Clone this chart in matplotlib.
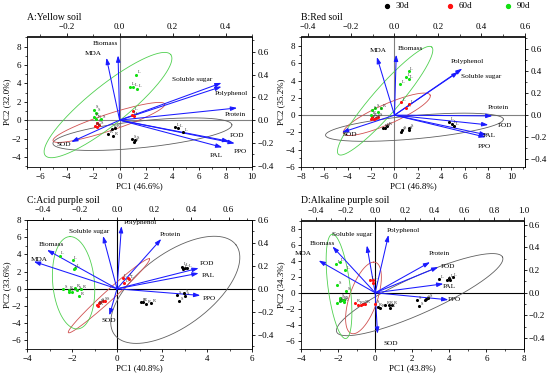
import numpy as np
import matplotlib.pyplot as plt
from matplotlib.ticker import AutoMinorLocator, MultipleLocator

plt.rcParams["font.family"] = ["Liberation Serif", "DejaVu Serif"]
plt.rcParams["axes.linewidth"] = 0.6

# variables (same order in every panel)
VARS = ["Biomass", "MDA", "Soluble sugar", "Polyphenol", "Protein", "POD", "PPO", "PAL", "SOD"]

# loadings (top / right axis units)
A_LOAD_X = [-0.006, -0.050, 0.385, 0.385, 0.444, 0.414, 0.435, 0.388, -0.183]
A_LOAD_Y = [0.568, 0.547, 0.327, 0.294, 0.107, -0.186, -0.204, -0.239, -0.192]
B_LOAD_X = [0.008, -0.081, 0.294, 0.312, 0.451, 0.432, 0.420, 0.424, -0.242]
B_LOAD_Y = [0.551, 0.530, 0.394, 0.424, -0.007, -0.089, -0.201, -0.180, -0.157]
C_LOAD_X = [-0.376, -0.447, -0.075, 0.024, 0.238, 0.439, 0.448, 0.439, -0.041]
C_LOAD_Y = [0.339, 0.238, 0.461, 0.547, 0.435, 0.180, -0.058, 0.136, -0.232]
D_LOAD_X = [-0.288, -0.381, -0.056, 0.090, 0.370, 0.426, 0.494, 0.460, 0.016]
D_LOAD_Y = [0.409, 0.285, 0.418, 0.511, 0.271, 0.227, -0.062, 0.079, -0.362]

# sample scores (PC1, PC2, organ tag)
A_30D = [(4.21, -0.71, "L"), (4.39, -0.82, "L"), (4.77, -1.33, "L"), (-0.58, -1.0, "R"), (-0.33, -0.85, "R"),
         (-0.88, -1.51, "R"), (-0.48, -1.69, "R"), (0.96, -2.09, "S"), (1.13, -2.16, "S"), (1.06, -2.42, "S")]
A_60D = [(1.01, 0.96, "L"), (0.96, 0.6, "L"), (1.11, 0.42, "L"), (-1.89, -0.64, "R"), (-1.74, -0.71, "R"),
         (-1.56, -0.49, "S"), (-1.69, -0.35, "S")]
A_90D = [(1.26, 4.96, "L"), (0.76, 3.65, "L"), (1.03, 3.58, "L"), (1.34, 3.44, "L"), (-1.94, 1.15, "S"),
         (-1.82, 0.82, "S"), (-1.94, 0.38, "R"), (-1.77, 0.09, "R"), (-1.44, 0.16, "S")]
B_30D = [(4.67, -0.74, "L"), (4.9, -1.01, "L"), (5.1, -1.24, "L"), (-0.8, -1.43, "R"), (-0.6, -1.24, "R"),
         (-1.0, -1.5, "R"), (0.63, -1.7, "S"), (1.2, -1.7, "S"), (0.57, -1.9, "S"), (1.28, -1.51, "S")]
B_60D = [(0.57, 1.48, "L"), (1.25, 1.29, "L"), (0.97, 0.79, "L"), (-1.94, -0.17, "R"), (-1.77, -0.44, "R"),
         (-1.6, -0.36, "S"), (-2.02, -0.48, "R"), (-1.37, -0.17, "S")]
B_90D = [(1.2, 5.08, "L"), (1.0, 4.36, "L"), (1.2, 4.2, "L"), (0.48, 3.59, "L"), (-1.65, 0.87, "S"),
         (-1.94, 0.6, "S"), (-1.37, 0.41, "S"), (-1.14, 0.79, "R"), (-1.99, 0.02, "R")]
C_30D = [(2.89, 2.59, "L"), (3.0, 2.47, "L"), (3.12, 2.4, "L"), (2.94, 2.32, "L"), (2.67, -0.7, "S"),
         (2.96, -0.5, "S"), (3.04, -0.89, "S"), (2.77, -1.39, "S"), (1.08, -1.55, "R"), (1.14, -1.55, "R"),
         (1.29, -1.78, "R"), (1.53, -1.66, "R")]
C_60D = [(0.25, 1.24, "L"), (0.49, 1.31, "L"), (0.55, 1.16, "L"), (0.3, 0.66, "L"), (-0.89, -1.86, "R"),
         (-0.81, -1.66, "R"), (-0.74, -1.59, "S"), (-0.64, -1.47, "S"), (-0.55, -1.39, "S"), (-0.84, -1.97, "R")]
C_90D = [(-2.55, 3.87, "L"), (-1.97, 3.36, "L"), (-1.93, 2.32, "L"), (-1.85, 2.4, "L"), (-2.4, -0.04, "S"),
         (-2.15, -0.12, "R"), (-2.12, -0.43, "S"), (-2.0, -0.43, "S"), (-1.88, 0.04, "R"), (-1.78, -0.12, "S"),
         (-1.7, -0.81, "R"), (-1.59, -0.04, "R")]
D_30D = [(3.46, 1.74, "L"), (3.89, 1.62, "L"), (4.0, 1.87, "L"), (4.18, 1.95, "L"), (4.04, 1.54, "L"),
         (2.28, -0.95, "S"), (2.74, -0.75, "S"), (2.87, -0.62, "S"), (2.69, -0.95, "S"), (2.39, -1.7, "S"),
         (0.13, -1.78, "R"), (0.27, -1.87, "R"), (0.54, -1.58, "R"), (0.72, -1.58, "R"), (0.81, -1.87, "R"),
         (0.9, -1.58, "R")]
D_60D = [(-0.27, 1.62, "L"), (-0.09, 1.62, "L"), (-0.13, 1.2, "L"), (-1.08, -1.29, "R"), (-0.9, -1.58, "R"),
         (-0.77, -1.58, "S"), (-0.63, -1.45, "S"), (-0.54, -1.37, "R"), (0.0, -1.37, "S")]
D_90D = [(-2.1, 3.61, "L"), (-1.92, 3.82, "L"), (-1.61, 2.78, "L"), (-2.06, 0.91, "S"), (-1.56, 0.21, "S"),
         (-1.88, -0.62, "S"), (-1.79, -0.87, "R"), (-1.67, -0.95, "S"), (-1.92, -1.04, "R"), (-2.06, -1.29, "R"),
         (-1.7, -1.16, "R")]

# confidence ellipses: centre, half-axis u, half-axis v (PC units)
A_ELL = {"30d": (1.72, -1.53, 6.76, 1.02, 0.1, -1.45), "60d": (-0.81, -0.25, 4.22, 2.0, 0.2, -0.86),
         "90d": (-0.88, 1.64, 4.74, 5.49, 0.92, -1.64)}
B_ELL = {"30d": (1.71, -1.4, 7.61, 0.93, 0.09, -1.34), "60d": (-0.66, 0.1, 3.71, 2.22, 0.35, -1.05),
         "90d": (-0.8, 1.67, 3.99, 6.21, 0.86, -1.0)}
C_ELL = {"30d": (2.59, -0.12, 2.7, 5.22, 0.97, -3.4), "60d": (-0.36, -0.81, 1.8, 4.29, 0.15, -0.43),
         "90d": (-1.93, 0.7, -0.15, 5.37, 0.93, 0.0)}
D_ELL = {"30d": (2.4, -0.23, 4.47, 4.67, 0.41, -2.08), "60d": (-0.63, -0.64, 0.54, 4.46, 0.8, 0.1),
         "90d": (-1.95, 0.8, -0.35, 6.5, 0.6, 0.0)}

TITLES = ["A:Yellow soil", "B:Red soil", "C:Acid purple soil", "D:Alkaline purple soil"]
PC1_LABELS = ["PC1 (46.6%)", "PC1 (46.8%)", "PC1 (40.8%)", "PC1 (43.8%)"]
PC2_LABELS = ["PC2 (32.0%)", "PC2 (35.2%)", "PC2 (33.6%)", "PC2 (34.3%)"]
GROUPS = ["30d", "60d", "90d"]

# layout
COLORS = {"30d": "black", "60d": "#ff1010", "90d": "#10e010"}
ELL_COLORS = {"30d": "#606060", "60d": "#d05050", "90d": "#50d050"}
RECTS = [(27, 36.5, 252, 167), (301, 36.5, 525, 167), (27, 220, 252, 349), (301, 220.5, 523.5, 349)]
XLIMS = [(-7, 10), (-8, 11.17), (-4, 6), (-4, 8)]
YLIMS = [(-5.1, 9.1), (-6, 9.1), (-7, 8.0), (-7, 9)]
SCALES = [(20, 12.4), (18.6, 12.7), (8.27, 13.33), (8.0, 14.1)]
ZERO_COL = ["#808080", "#808080", "black", "black"]
LABEL_POS = [
    [(-1.06, 8.3), (-1.97, 7.2), (5.5, 4.42), (8.45, 2.85), (8.72, 0.56), (8.88, -1.69), (9.13, -3.4),
     (7.31, -3.9), (-4.2, -2.7)],
    [(1.34, 7.69), (-1.42, 7.5), (7.38, 4.43), (6.27, 6.23), (8.89, 0.9), (9.46, -1.25), (7.69, -3.6),
     (8.15, -2.4), (-3.79, -2.28)],
    [(-2.92, 5.1), (-3.45, 3.44), (-1.26, 6.65), (1.04, 7.73), (2.37, 6.26), (4.0, 2.98), (4.08, -1.08),
     (4.05, 1.55), (-0.37, -3.71)],
    [(-2.87, 6.18), (-3.86, 4.85), (-1.22, 7.22), (1.52, 7.76), (3.44, 4.85), (3.91, 3.32), (4.27, -0.83),
     (3.98, 0.79), (0.86, -6.27)],
]


def fmt(v, pos):
    return f"{v:.1f}".replace("-", "\u2212")


W, H = 550, 383
fig = plt.figure(figsize=(W / 100, H / 100), dpi=100)

panels = [
    (A_LOAD_X, A_LOAD_Y, [A_30D, A_60D, A_90D], A_ELL),
    (B_LOAD_X, B_LOAD_Y, [B_30D, B_60D, B_90D], B_ELL),
    (C_LOAD_X, C_LOAD_Y, [C_30D, C_60D, C_90D], C_ELL),
    (D_LOAD_X, D_LOAD_Y, [D_30D, D_60D, D_90D], D_ELL),
]

t = np.linspace(0, 2 * np.pi, 300)
for i, (lx, ly, scores, ells) in enumerate(panels):
    l, top, r, b = RECTS[i]
    ax = fig.add_axes([l / W, 1 - b / H, (r - l) / W, (b - top) / H])
    sx, sy = SCALES[i]
    ax.set_xlim(XLIMS[i])
    ax.set_ylim(YLIMS[i])
    ax.axhline(0, color=ZERO_COL[i], lw=0.8, zorder=1)
    ax.axvline(0, color=ZERO_COL[i], lw=0.8, zorder=1)

    for g in GROUPS:
        cx, cy, ux, uy, vx, vy = ells[g]
        ax.plot(cx + ux * np.cos(t) + vx * np.sin(t), cy + uy * np.cos(t) + vy * np.sin(t),
                color=ELL_COLORS[g], lw=0.6, zorder=2)

    for k, name in enumerate(VARS):
        ax.annotate("", xy=(lx[k] * sx, ly[k] * sy), xytext=(0, 0),
                    arrowprops=dict(arrowstyle="-|>,head_length=0.75,head_width=0.25", color="#1a1aff",
                                    lw=0.75, shrinkA=0, shrinkB=0, mutation_scale=5), zorder=3)
        px, py = LABEL_POS[i][k]
        ax.text(px, py, name, fontsize=5.2, ha="center", va="center", zorder=5)

    for g, pts in zip(GROUPS, scores):
        xs = [p[0] for p in pts]
        ys = [p[1] for p in pts]
        ax.scatter(xs, ys, s=5, color=COLORS[g], lw=0, zorder=4)
        for x, y, tag in pts:
            ax.annotate(tag, (x, y), xytext=(1.2, 0.8), textcoords="offset points", fontsize=3.2,
                        color="#333333", zorder=4)

    ax.xaxis.set_major_locator(MultipleLocator(2))
    ax.yaxis.set_major_locator(MultipleLocator(2))
    ax.xaxis.set_minor_locator(AutoMinorLocator(2))
    ax.yaxis.set_minor_locator(AutoMinorLocator(2))
    ax.tick_params(which="major", length=2.5, width=0.6, labelsize=6.5, pad=1.5)
    ax.tick_params(which="minor", length=1.5, width=0.5)

    sec_x = ax.secondary_xaxis("top", functions=(lambda v, s=sx: v / s, lambda v, s=sx: v * s))
    sec_y = ax.secondary_yaxis("right", functions=(lambda v, s=sy: v / s, lambda v, s=sy: v * s))
    for axis in (sec_x.xaxis, sec_y.yaxis):
        axis.set_major_locator(MultipleLocator(0.2))
        axis.set_minor_locator(AutoMinorLocator(2))
        axis.set_major_formatter(plt.FuncFormatter(fmt))
    for sec in (sec_x, sec_y):
        sec.tick_params(which="major", length=2.5, width=0.6, labelsize=6.5, pad=1.5)
        sec.tick_params(which="minor", length=1.5, width=0.5)

    ax.set_xlabel(PC1_LABELS[i], fontsize=6.5, labelpad=1.5)
    ax.set_ylabel(PC2_LABELS[i], fontsize=6.5, labelpad=0.5)
    fig.text(l / W, 1 - 17 / H if i < 2 else 1 - 200 / H, TITLES[i], fontsize=7, ha="left", va="center")

# legend row
for g, xm in zip(GROUPS, [386.7, 450, 508]):
    fig.lines.append(plt.Line2D([xm / W], [1 - 6 / H], marker="o", ms=2.8, color=COLORS[g], lw=0,
                                transform=fig.transFigure))
    fig.text((xm + 9) / W, 1 - 6 / H, g, fontsize=6.5, ha="left", va="center")

fig.savefig("out.png", dpi=100)
